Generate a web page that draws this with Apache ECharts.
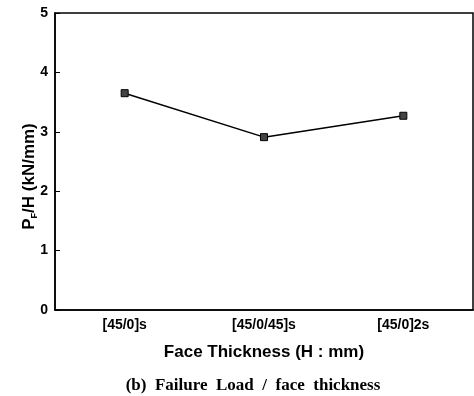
<!DOCTYPE html>
<html><head><meta charset="utf-8">
<script src="https://cdn.jsdelivr.net/npm/echarts@6/dist/echarts.min.js"></script>
<style>html,body{margin:0;padding:0;background:#fff}#c{width:474px;height:396px}</style>
</head><body><div id="c"></div>
<script>
const categories = ['[45/0]s', '[45/0/45]s', '[45/0]2s'];
const values = [3.65, 2.91, 3.27];
const yTicks = [0, 1, 2, 3, 4, 5];

const chart = echarts.init(document.getElementById('c'));
chart.setOption({
  animation: false,
  backgroundColor: '#fff',
  grid: { left: 55, right: 1, top: 13, bottom: 86, show: true, borderColor: '#000', borderWidth: 1.5, backgroundColor: 'transparent' },
  title: {
    text: '(b)  Failure  Load  /  face  thickness',
    left: 248, top: 372, textAlign: 'center',
    textStyle: { fontFamily: 'Liberation Serif', fontWeight: 'bold', fontSize: 17, color: '#000' }
  },
  xAxis: {
    type: 'category', data: categories, boundaryGap: true,
    axisLine: { lineStyle: { color: '#000', width: 1.5 } },
    axisTick: { inside: true, alignWithLabel: true, length: 5, lineStyle: { color: '#000' } },
    axisLabel: { color: '#000', fontFamily: 'Liberation Sans', fontWeight: 'bold', fontSize: 14, margin: 8 },
    name: 'Face Thickness (H : mm)', nameLocation: 'middle', nameGap: 34,
    nameTextStyle: { color: '#000', fontFamily: 'Liberation Sans', fontWeight: 'bold', fontSize: 17 }
  },
  yAxis: {
    type: 'value', min: yTicks[0], max: yTicks[yTicks.length - 1], interval: 1,
    splitLine: { show: false },
    axisLine: { show: true, lineStyle: { color: '#000', width: 1.5 } },
    axisTick: { show: true, inside: true, length: 5, lineStyle: { color: '#000' } },
    axisLabel: { color: '#000', fontFamily: 'Liberation Sans', fontWeight: 'bold', fontSize: 14, margin: 7 },
    name: '{a|P}{s|F}{a|/H (kN/mm)}', nameLocation: 'middle', nameGap: 16, nameRotate: 90,
    nameMoveOverlap: false,
    nameTextStyle: {
      padding: [0, 30, 0, 0],
      rich: {
        a: { fontFamily: 'Liberation Sans', fontWeight: 'bold', fontSize: 17, color: '#000' },
        s: { fontFamily: 'Liberation Sans', fontWeight: 'bold', fontSize: 9, color: '#000', padding: [10, 0, 0, 0] }
      }
    }
  },
  series: [{
    type: 'line', data: values,
    symbol: 'rect', symbolSize: 7,
    lineStyle: { color: '#000', width: 1.5 },
    itemStyle: { color: '#444', borderColor: '#000', borderWidth: 1 }
  }]
});
</script></body></html>
